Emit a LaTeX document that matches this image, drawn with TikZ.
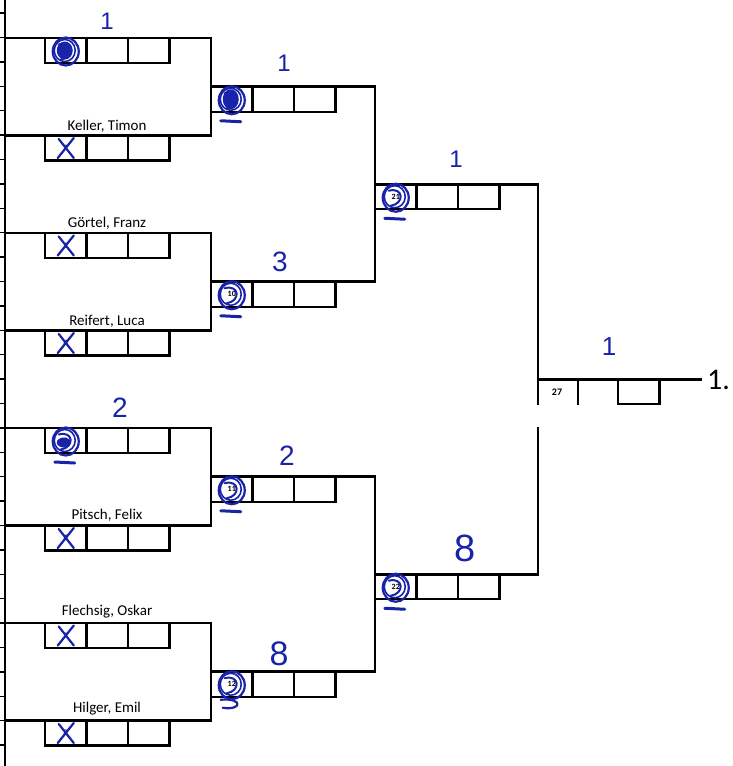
\documentclass[tikz,border=0pt]{standalone}
\usepackage{fontspec}
\setmainfont{Carlito}
\newfontfamily\handfont{Liberation Sans}
\usetikzlibrary{positioning}
\definecolor{inkblue}{RGB}{25,35,170}

\tikzset{
  bline/.style={line width=2.8pt, line join=miter},
  cellbox/.style={draw, line width=2.4pt, minimum width=41.5pt, minimum height=25pt,
    inner sep=0pt, outer sep=0pt, anchor=north west,
    font=\fontsize{8}{8}\selectfont\bfseries},
  pname/.style={font=\fontsize{15}{15}\selectfont, inner sep=0pt, anchor=south},
  ink/.style={draw=inkblue, line width=2.2pt, line cap=round, line join=round},
  hand/.style={text=inkblue, inner sep=0pt, font=\handfont\fontsize{28}{28}\selectfont},
}

% three cells hanging under a bracket line
\newcommand{\slotrow}[4]{%
  \node[cellbox] (#1a) at (#2,#3) {#4};
  \node[cellbox, right=0pt of #1a] (#1b) {};
  \node[cellbox, right=0pt of #1b] (#1c) {};
}
% pen marks
\newcommand{\crossmark}[1]{%
  \draw[ink] ([shift={(-7,-9)}]#1.center) -- ++(15,19);
  \draw[ink] ([shift={(8,-10)}]#1.center) -- ++(-16,20);
}
\newcommand{\circmark}[1]{%
  \draw[ink] ([shift={(0,1)}]#1.center) ellipse (13 and 14);
  \draw[ink, line width=1.6pt] ([shift={(-1,0)}]#1.center) ellipse (10.5 and 11);
  \draw[ink, line width=2pt] ([shift={(-7,-6)}]#1.center) .. controls ([shift={(8,-10)}]#1.center) and ([shift={(9,7)}]#1.center) .. ([shift={(-5,9)}]#1.center);
}
\newcommand{\dashmark}[1]{%
  \draw[ink, line width=3pt] ([shift={(-11,9)}]#1.south) -- ++(20,1);
}

\begin{document}
\begin{tikzpicture}[x=1pt, y=-1pt]
\useasboundingbox (0,0) rectangle (732,766);

% left rail of the sheet
\draw[line width=2.6pt] (5,0) -- (5,766);
\foreach \k in {0,...,30}
  \draw[line width=1.4pt] (0,{13+24.4*\k}) -- (5,{13+24.4*\k});

% round 1
\foreach \k/\sa/\sb in {0/1/2,1/3/4,2/5/6,3/7/8} {
  \pgfmathsetmacro\ya{38+195*\k}
  \pgfmathsetmacro\yb{\ya+97.5}
  \draw[bline] (5,\ya) -| (211,\yb) -- (5,\yb);
  \slotrow{p\sa}{45}{\ya}{\sa}
  \slotrow{p\sb}{45}{\yb}{\sb}
}

% round 2
\foreach \j/\sa/\sb in {0/9/10,1/11/12} {
  \pgfmathsetmacro\ya{86.75+390*\j}
  \pgfmathsetmacro\yb{\ya+195}
  \draw[bline] (211,\ya) -| (375,\yb) -- (211,\yb);
  \slotrow{q\sa}{211}{\ya}{\sa}
  \slotrow{q\sb}{211}{\yb}{\sb}
}

% round 3
\draw[bline] (375,184.25) -| (538,405);
\draw[bline] (375,574.25) -| (538,427);
\slotrow{s21}{375}{184.25}{21}
\slotrow{s22}{375}{574.25}{22}

% final
\draw[bline] (538,379.25) -- (702,379.25);
\draw[line width=2.4pt] (578,379.25) -- (578,405);
\node[cellbox] (fin) at (618,379.25) {};
\node[font=\fontsize{10}{10}\selectfont\bfseries] (fid) at (557,392) {27};
\node[font=\fontsize{30}{30}\selectfont, anchor=west, inner sep=0pt] (place) at (707,380) {1.};

% names
\node[pname] (n2) at (107,133) {Keller, Timon};
\node[pname] (n3) at (107,230) {Görtel, Franz};
\node[pname] (n4) at (107,328) {Reifert, Luca};
\node[pname] (n6) at (107,522) {Pitsch, Felix};
\node[pname] (n7) at (107,618) {Flechsig, Oskar};
\node[pname] (n8) at (107,715) {Hilger, Emil};

% pen marks on the sheet
\circmark{p1a}
\fill[inkblue] ([shift={(-1,0)}]p1a.center) ellipse (8 and 9);
\crossmark{p2a}
\crossmark{p3a}
\crossmark{p4a}
\circmark{p5a} \dashmark{p5a}
\fill[inkblue] ([shift={(-2,2)}]p5a.center) ellipse (7 and 5);
\crossmark{p6a}
\crossmark{p7a}
\crossmark{p8a}
\circmark{q9a} \dashmark{q9a}
\fill[inkblue] ([shift={(-1,0)}]q9a.center) ellipse (8 and 10);
\circmark{q10a} \dashmark{q10a}
\circmark{q11a} \dashmark{q11a}
\circmark{q12a}
\draw[ink] ([shift={(-11,3)}]q12a.south) .. controls ([shift={(12,1)}]q12a.south) and ([shift={(10,14)}]q12a.south) .. ([shift={(-9,11)}]q12a.south);
\circmark{s21a} \dashmark{s21a}
\circmark{s22a} \dashmark{s22a}

% handwritten scores
\node[hand, font=\handfont\fontsize{24}{24}\selectfont] (h1) at (107,21) {1};
\node[hand, font=\handfont\fontsize{24}{24}\selectfont] (h9) at (284,63) {1};
\node[hand, font=\handfont\fontsize{24}{24}\selectfont] (h21) at (456,159) {1};
\node[hand, font=\handfont\fontsize{26}{26}\selectfont] (hf) at (609,347) {1};
\node[hand] (h10) at (280,262) {3};
\node[hand] (h5) at (120,408) {2};
\node[hand] (h11) at (287,456) {2};
\node[hand, font=\handfont\fontsize{38}{38}\selectfont] (h22) at (465,548) {8};
\node[hand, font=\handfont\fontsize{34}{34}\selectfont] (h12) at (279,654) {8};
\end{tikzpicture}
\end{document}
